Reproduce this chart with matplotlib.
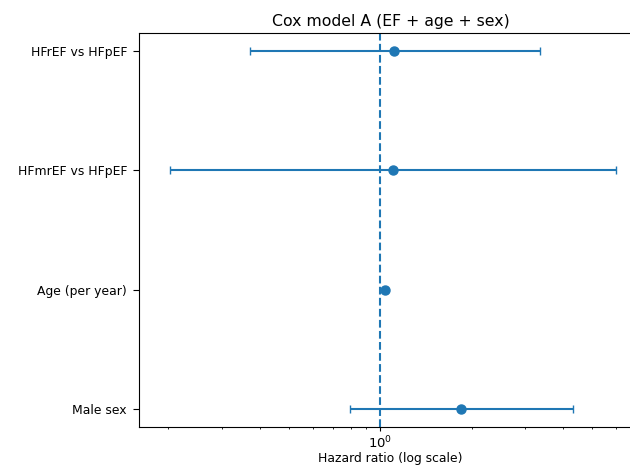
import matplotlib
matplotlib.use("Agg")
import matplotlib.pyplot as plt
import numpy as np

labels = ["HFrEF vs HFpEF", "HFmrEF vs HFpEF", "Age (per year)", "Male sex"]
hr = [1.11, 1.10, 1.04, 1.85]
ci_low = [0.371, 0.202, 1.03, 0.797]
ci_high = [3.36, 5.98, 1.05, 4.31]

s = 0.88
plt.rcParams.update({
    'font.size': 10 * s,
    'xtick.major.size': 3.5 * s, 'xtick.minor.size': 2 * s,
    'ytick.major.size': 4.3,
    'xtick.major.pad': 2.3, 'xtick.minor.pad': 2.3,
    'ytick.major.pad': 4.3,
    'axes.labelpad': 1.0,
})

fig = plt.figure(figsize=(6.3, 4.66), dpi=100)
ax = fig.add_axes([139/630, 1 - 427/466, (642-139)/630, (427-33)/466])

y = np.arange(len(labels))
hr_a = np.array(hr)
err = np.vstack([hr_a - np.array(ci_low), np.array(ci_high) - hr_a])
ax.errorbar(hr_a, y, xerr=err, fmt='o', color='#1f77b4', capsize=3, lw=1.5, ms=6.5)
ax.axvline(1, linestyle='--', color='#1f77b4', lw=1.5)
ax.set_xscale('log')
ax.set_xlim(0.16, 7.3)
ax.set_yticks(y)
ax.set_yticklabels(labels, fontsize=8.9)
ax.tick_params(axis='x', labelsize=9.5)
ax.invert_yaxis()
ax.set_xlabel("Hazard ratio (log scale)", fontsize=8.9)
ax.set_title("Cox model A (EF + age + sex)", fontsize=11.3, pad=5)

fig.savefig("out.png", dpi=100)
